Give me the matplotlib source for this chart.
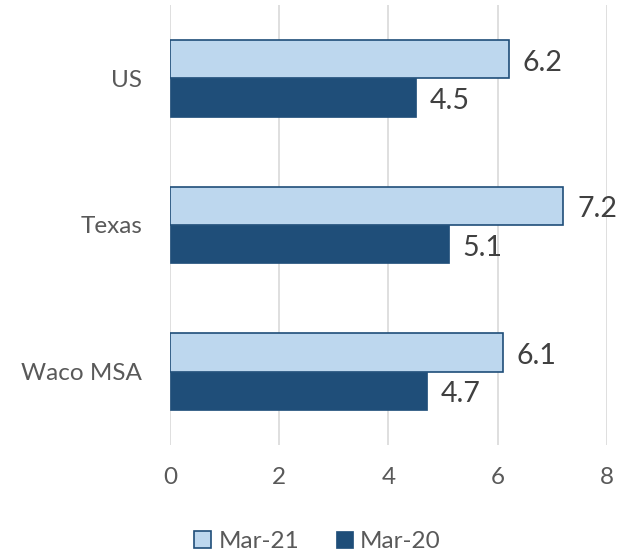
import matplotlib.pyplot as plt
import numpy as np

categories = ["Waco MSA", "Texas", "US"]
mar21 = [6.1, 7.2, 6.2]
mar20 = [4.7, 5.1, 4.5]
series_names = ["Mar-21", "Mar-20"]

light = "#bdd7ee"
dark = "#1f4e79"
grey = "#595959"

plt.rcParams['font.family'] = ['Lato', 'DejaVu Sans']

fig = plt.figure(figsize=(6.35, 5.54), dpi=100)
ax = fig.add_axes([0.2677, 0.197, 0.688, 0.794])

y = np.arange(len(categories))
h = 0.262
b1 = ax.barh(y + h / 2, mar21, height=h, color=light, edgecolor=dark, linewidth=1.2, label=series_names[0])
b2 = ax.barh(y - h / 2, mar20, height=h, color=dark, edgecolor=dark, linewidth=0.5, label=series_names[1])

# value labels just right of each bar
for bars in (b1, b2):
    for r in bars:
        ax.annotate(f"{r.get_width():.1f}", (r.get_width(), r.get_y() + r.get_height() / 2),
                    xytext=(10, -2.5), textcoords="offset points", va="center", ha="left",
                    fontsize=20.5, color="#404040")

ax.set_xlim(0, 8)
ax.set_ylim(-0.5, 2.5)
ax.set_xticks([0, 2, 4, 6, 8])
ax.set_yticks(y)
ax.set_yticklabels(categories)
ax.tick_params(axis="both", length=0, labelsize=17.5, colors=grey)
ax.tick_params(axis="x", pad=16)
ax.tick_params(axis="y", pad=20)
ax.grid(axis="x", color="#d9d9d9", linewidth=1.2)
ax.set_axisbelow(True)
for s in ax.spines.values():
    s.set_visible(False)

fig.legend(handles=[b1, b2], loc="center", bbox_to_anchor=(0.5, 0.022), ncol=2, frameon=False,
           fontsize=17.5, labelcolor=grey, handlelength=0.7, handleheight=0.7, handletextpad=0.3,
           columnspacing=1.5)

fig.savefig("out.png", dpi=100)
